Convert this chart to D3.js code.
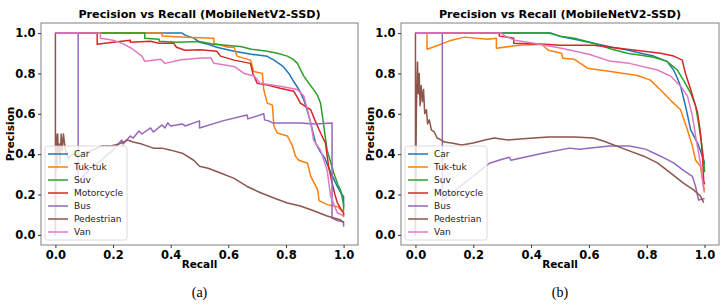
<!DOCTYPE html>
<html>
<head>
<meta charset="utf-8">
<script src="https://cdn.jsdelivr.net/npm/d3@7"></script>
<style>
  body { margin: 0; background: #fff; }
</style>
</head>
<body>
<svg id="chart" width="724" height="308" font-family="DejaVu Sans, sans-serif"></svg>
<script>
// classes and matplotlib tab10 colours
const classes = ["Car", "Tuk-tuk", "Suv", "Motorcycle", "Bus", "Pedestrian", "Van"];
const colors = ["#1f77b4", "#ff7f0e", "#2ca02c", "#d62728", "#9467bd", "#8c564b", "#e377c2"];
const tickValues = [0, 0.2, 0.4, 0.6, 0.8, 1.0];

// ---- panel (a): [recall, precision] ----
const carA = [[0,1],[0.44,1],[0.45,0.99],[0.48,0.975],[0.5,0.955],[0.53,0.945],[0.56,0.93],[0.62,0.91],[0.68,0.895],[0.735,0.885],[0.76,0.865],[0.79,0.835],[0.81,0.8],[0.827,0.76],[0.845,0.72],[0.862,0.67],[0.875,0.61],[0.886,0.555],[0.895,0.5],[0.903,0.455],[0.92,0.41],[0.935,0.38],[0.955,0.31],[0.965,0.28],[0.978,0.24],[0.99,0.21],[1.0,0.19],[1.0,0.14]];
const tuktukA = [[0,1],[0.37,1],[0.37,0.985],[0.45,0.98],[0.55,0.975],[0.55,0.95],[0.6,0.93],[0.62,0.93],[0.63,0.886],[0.677,0.866],[0.688,0.81],[0.718,0.8],[0.723,0.72],[0.735,0.653],[0.753,0.643],[0.758,0.54],[0.77,0.505],[0.805,0.49],[0.823,0.44],[0.833,0.39],[0.845,0.37],[0.875,0.355],[0.886,0.29],[0.91,0.223],[0.915,0.17],[0.943,0.15],[0.965,0.143],[0.98,0.14],[1.0,0.11],[1.0,0.1]];
const suvA = [[0,1],[0.31,1],[0.31,0.975],[0.36,0.97],[0.36,0.96],[0.42,0.955],[0.5,0.958],[0.55,0.945],[0.642,0.934],[0.68,0.92],[0.735,0.91],[0.77,0.9],[0.805,0.886],[0.825,0.87],[0.84,0.85],[0.85,0.82],[0.862,0.787],[0.88,0.75],[0.896,0.72],[0.91,0.69],[0.92,0.653],[0.93,0.555],[0.937,0.48],[0.943,0.42],[0.955,0.36],[0.966,0.307],[0.98,0.25],[0.99,0.22],[1.0,0.15],[1.0,0.12]];
const motoA = [[0,1],[0.145,1],[0.145,0.945],[0.2,0.955],[0.26,0.965],[0.26,0.955],[0.33,0.96],[0.36,0.95],[0.41,0.95],[0.42,0.93],[0.45,0.915],[0.503,0.917],[0.56,0.91],[0.573,0.886],[0.62,0.866],[0.677,0.85],[0.685,0.8],[0.7,0.752],[0.735,0.743],[0.78,0.727],[0.827,0.712],[0.84,0.68],[0.85,0.653],[0.886,0.62],[0.9,0.57],[0.92,0.505],[0.937,0.455],[0.948,0.34],[0.96,0.258],[0.97,0.2],[0.978,0.16],[0.99,0.13],[1.0,0.11],[1.0,0.09]];
const busA = [[0,1],[0.079,1],[0.079,0.26],[0.1,0.3],[0.15,0.36],[0.2,0.42],[0.23,0.47],[0.235,0.45],[0.26,0.49],[0.27,0.48],[0.29,0.515],[0.3,0.5],[0.33,0.53],[0.34,0.51],[0.37,0.545],[0.38,0.53],[0.39,0.555],[0.4,0.54],[0.44,0.55],[0.45,0.54],[0.5,0.565],[0.5,0.53],[0.58,0.565],[0.665,0.594],[0.668,0.575],[0.723,0.6],[0.726,0.57],[0.74,0.565],[0.753,0.555],[0.85,0.555],[0.9,0.55],[0.96,0.555],[0.96,0.083],[0.98,0.07],[1.0,0.065],[1.0,0.04]];
const pedA = [[0,1],[0,0],[0.002,0.5],[0.005,0.33],[0.008,0.5],[0.01,0.4],[0.013,0.45],[0.016,0.35],[0.02,0.5],[0.024,0.42],[0.028,0.5],[0.032,0.45],[0.036,0.41],[0.045,0.38],[0.06,0.4],[0.08,0.39],[0.1,0.41],[0.13,0.42],[0.16,0.44],[0.19,0.44],[0.22,0.45],[0.25,0.47],[0.27,0.46],[0.3,0.45],[0.34,0.43],[0.37,0.43],[0.4,0.42],[0.44,0.405],[0.48,0.37],[0.5,0.34],[0.53,0.33],[0.573,0.307],[0.62,0.28],[0.665,0.24],[0.71,0.21],[0.758,0.183],[0.805,0.158],[0.85,0.143],[0.896,0.12],[0.943,0.094],[0.99,0.074],[1.0,0.06]];
const vanA = [[0,1],[0.156,1],[0.156,0.975],[0.2,0.965],[0.23,0.95],[0.264,0.925],[0.3,0.886],[0.31,0.86],[0.366,0.87],[0.38,0.85],[0.437,0.868],[0.507,0.876],[0.54,0.876],[0.55,0.85],[0.62,0.835],[0.655,0.8],[0.69,0.787],[0.71,0.752],[0.78,0.737],[0.84,0.72],[0.862,0.688],[0.886,0.555],[0.896,0.47],[0.92,0.42],[0.943,0.32],[0.955,0.193],[0.978,0.11],[1.0,0.094]];

// ---- panel (b) ----
const carB = [[0,1],[0.47,1],[0.502,0.983],[0.55,0.97],[0.616,0.95],[0.68,0.93],[0.733,0.916],[0.78,0.9],[0.824,0.886],[0.87,0.86],[0.893,0.817],[0.905,0.78],[0.917,0.737],[0.934,0.64],[0.952,0.52],[0.976,0.455],[0.99,0.4],[0.997,0.37],[1.0,0.35]];
const tuktukB = [[0,1],[0.04,1],[0.04,0.92],[0.06,0.93],[0.125,0.965],[0.17,0.98],[0.25,0.97],[0.28,0.975],[0.28,0.925],[0.357,0.94],[0.436,0.945],[0.46,0.915],[0.505,0.9],[0.51,0.875],[0.55,0.87],[0.595,0.826],[0.675,0.81],[0.768,0.79],[0.813,0.767],[0.848,0.718],[0.882,0.668],[0.917,0.62],[0.941,0.52],[0.958,0.44],[0.969,0.37],[0.986,0.34],[0.997,0.24],[1.0,0.22]];
const suvB = [[0,1],[0.46,1],[0.5,0.985],[0.55,0.975],[0.616,0.95],[0.68,0.92],[0.733,0.9],[0.78,0.89],[0.824,0.88],[0.87,0.86],[0.906,0.817],[0.927,0.767],[0.952,0.703],[0.969,0.64],[0.979,0.555],[0.993,0.42],[1.0,0.32],[1.0,0.31]];
const motoB = [[0,1],[0.29,1],[0.29,0.985],[0.34,0.975],[0.34,0.95],[0.45,0.945],[0.5,0.94],[0.616,0.94],[0.733,0.92],[0.848,0.9],[0.893,0.886],[0.923,0.866],[0.934,0.8],[0.952,0.72],[0.963,0.668],[0.976,0.604],[0.986,0.505],[0.993,0.39],[0.997,0.27],[1.0,0.25]];
const busB = [[0,1],[0.093,1],[0.093,0.17],[0.256,0.355],[0.3,0.375],[0.325,0.385],[0.33,0.37],[0.44,0.405],[0.533,0.43],[0.567,0.425],[0.67,0.44],[0.74,0.44],[0.796,0.425],[0.848,0.39],[0.893,0.357],[0.927,0.32],[0.958,0.29],[0.969,0.24],[0.979,0.173],[1.0,0.18]];
const pedB = [[0,1],[0,0],[0.003,0.6],[0.007,0.857],[0.01,0.7],[0.013,0.8],[0.016,0.64],[0.02,0.74],[0.024,0.66],[0.028,0.72],[0.032,0.6],[0.038,0.62],[0.042,0.55],[0.048,0.57],[0.055,0.52],[0.065,0.51],[0.075,0.48],[0.09,0.47],[0.1,0.46],[0.125,0.455],[0.16,0.445],[0.2,0.455],[0.24,0.47],[0.273,0.48],[0.32,0.47],[0.36,0.475],[0.41,0.48],[0.46,0.485],[0.505,0.485],[0.55,0.485],[0.616,0.48],[0.65,0.465],[0.733,0.42],[0.79,0.39],[0.837,0.357],[0.882,0.307],[0.927,0.257],[0.962,0.223],[0.986,0.193],[0.997,0.16]];
const vanB = [[0,1],[0.297,1],[0.31,0.985],[0.343,0.965],[0.41,0.95],[0.505,0.925],[0.6,0.895],[0.675,0.86],[0.74,0.85],[0.837,0.817],[0.882,0.787],[0.917,0.737],[0.941,0.688],[0.958,0.59],[0.969,0.49],[0.986,0.355],[0.997,0.223],[1.0,0.21]];

const panels = [
  {series: [carA, tuktukA, suvA, motoA, busA, pedA, vanA], left: 41, right: 358, caption: "(a)"},
  {series: [carB, tuktukB, suvB, motoB, busB, pedB, vanB], left: 401, right: 719, caption: "(b)"}
];

const svg = d3.select("#chart");
const plotTop = 23, plotBottom = 245;

panels.forEach(p => {
  const x = d3.scaleLinear().domain([-0.05, 1.05]).range([p.left, p.right]);
  const y = d3.scaleLinear().domain([-0.05, 1.05]).range([plotBottom, plotTop]);
  const g = svg.append("g");
  const cx = (p.left + p.right) / 2;

  const line = d3.line().x(d => x(d[0])).y(d => y(d[1]));
  g.append("g")
    .selectAll("path")
    .data(p.series)
    .enter().append("path")
    .attr("d", line)
    .attr("fill", "none")
    .attr("stroke", (d, i) => colors[i])
    .attr("stroke-width", 1.5)
    .attr("stroke-linejoin", "round");

  // frame
  g.append("rect")
    .attr("x", p.left).attr("y", plotTop)
    .attr("width", p.right - p.left).attr("height", plotBottom - plotTop)
    .attr("fill", "none").attr("stroke", "#808080").attr("stroke-width", 1);

  const fmt = d3.format(".1f");
  const xAxis = g.append("g").attr("transform", `translate(0,${plotBottom})`)
    .call(d3.axisBottom(x).tickValues(tickValues).tickFormat(fmt).tickSize(3).tickPadding(3));
  const yAxis = g.append("g").attr("transform", `translate(${p.left},0)`)
    .call(d3.axisLeft(y).tickValues(tickValues).tickFormat(fmt).tickSize(3).tickPadding(2.5));
  [xAxis, yAxis].forEach(a => {
    a.select(".domain").remove();
    a.selectAll("line").attr("stroke", "#333");
    a.selectAll("text").attr("font-family", "DejaVu Sans").attr("font-weight", "bold")
      .attr("font-size", 11.5).attr("fill", "#000");
  });

  g.append("text").attr("x", cx).attr("y", 18)
    .attr("text-anchor", "middle").attr("font-weight", "bold").attr("font-size", 11.2)
    .text("Precision vs Recall (MobileNetV2-SSD)");
  g.append("text").attr("x", x(0.5)).attr("y", 268)
    .attr("text-anchor", "middle").attr("font-weight", "bold").attr("font-size", 10.5)
    .text("Recall");
  g.append("text")
    .attr("transform", `translate(${p.left - 27},${(plotTop + plotBottom) / 2}) rotate(-90)`)
    .attr("text-anchor", "middle").attr("font-weight", "bold").attr("font-size", 10.5)
    .text("Precision");
  g.append("text").attr("x", cx).attr("y", 297)
    .attr("text-anchor", "middle").attr("font-family", "Liberation Serif").attr("font-size", 14)
    .text(p.caption);

  // legend
  const lg = g.append("g").attr("transform", `translate(${p.left + 4},146)`);
  lg.append("rect").attr("width", 82).attr("height", 94).attr("rx", 2.5)
    .attr("fill", "#fff").attr("fill-opacity", 0.8)
    .attr("stroke", "#d0d0d0").attr("stroke-width", 0.8);
  const item = lg.selectAll("g.item").data(classes).enter().append("g")
    .attr("class", "item")
    .attr("transform", (d, i) => `translate(0,${8 + i * 13})`);
  item.append("line").attr("x1", 3).attr("x2", 23)
    .attr("stroke", (d, i) => colors[i]).attr("stroke-width", 1.5);
  item.append("text").attr("x", 29).attr("y", 3.3)
    .attr("font-size", 9).attr("fill", "#222").text(d => d);
});
</script>
</body>
</html>
